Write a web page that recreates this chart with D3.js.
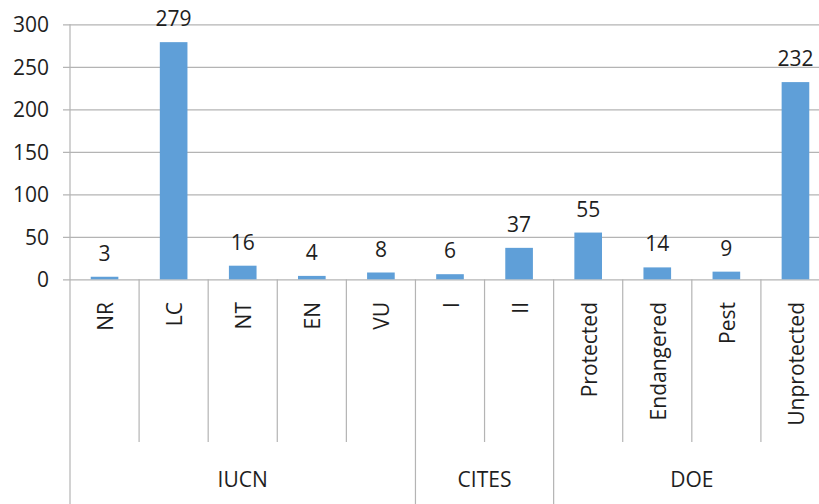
<!DOCTYPE html>
<html>
<head>
<meta charset="utf-8">
<script src="https://cdn.jsdelivr.net/npm/d3@7"></script>
<style>
  body { margin: 0; background: #fff; }
  svg text { font-family: "Open Sans", sans-serif; fill: #1e1e1e; font-size: 21px; }
</style>
</head>
<body>
<div class="barchart"></div>
<script>
// Data
var categories = ["NR", "LC", "NT", "EN", "VU", "I", "II", "Protected", "Endangered", "Pest", "Unprotected"];
var counts = [3, 279, 16, 4, 8, 6, 37, 55, 14, 9, 232];
var groupNames = ["IUCN", "CITES", "DOE"];
var groupSizes = [5, 2, 4];
var yTicks = [0, 50, 100, 150, 200, 250, 300];

var W = 819, H = 504;
// plot area runs a bit past the right edge, like the cropped original
var plotLeft = 70, plotRight = 830, plotTop = 24.3, plotZero = 279.3;

var svg = d3.select(".barchart").append("svg")
    .attr("width", W)
    .attr("height", H);

var x = d3.scaleBand()
    .domain(categories)
    .range([plotLeft, plotRight])
    .paddingInner(0.6)
    .paddingOuter(0.3);

var y = d3.scaleLinear()
    .domain([0, 300])
    .range([plotZero, plotTop]);

// y axis with gridlines
var yAxis = svg.append("g")
    .attr("transform", "translate(63,0)")
    .call(d3.axisLeft(y)
      .tickValues(yTicks)
      .tickSize(-(plotRight - 63))
      .tickPadding(14));
yAxis.select(".domain").remove();
yAxis.selectAll("line").attr("stroke", "#b4b4b4").attr("stroke-width", 1.2);
yAxis.selectAll("text")
    .attr("font-size", null)
    .attr("font-family", null)
    .attr("fill", null)
    .attr("dy", "0.36em");

// vertical axis line
svg.append("line")
    .attr("x1", plotLeft).attr("x2", plotLeft)
    .attr("y1", plotTop).attr("y2", H)
    .attr("stroke", "#b4b4b4").attr("stroke-width", 1.2);

// category separators; group boundaries run down to the bottom
var step = x.step();
var groupEnds = d3.cumsum(groupSizes);
for (var i = 1; i <= categories.length; i++) {
  var isGroupEnd = groupEnds.indexOf(i) >= 0;
  svg.append("line")
      .attr("x1", plotLeft + i * step).attr("x2", plotLeft + i * step)
      .attr("y1", plotZero).attr("y2", isGroupEnd ? H : 442)
      .attr("stroke", "#b4b4b4").attr("stroke-width", 1.2);
}

// bars
svg.selectAll(".bar")
    .data(counts)
    .enter().append("rect")
    .attr("class", "bar")
    .attr("x", function(d, i) { return x(categories[i]); })
    .attr("width", x.bandwidth())
    .attr("y", function(d) { return y(d); })
    .attr("height", function(d) { return plotZero - y(d); })
    .attr("fill", "#5f9fd8");

// value labels
svg.selectAll(".val")
    .data(counts)
    .enter().append("text")
    .attr("class", "val")
    .attr("x", function(d, i) { return x(categories[i]) + x.bandwidth() / 2; })
    .attr("y", function(d) { return y(d) - 16; })
    .attr("text-anchor", "middle")
    .text(function(d) { return d; });

// rotated category labels
svg.selectAll(".cat")
    .data(categories)
    .enter().append("text")
    .attr("class", "cat")
    .attr("transform", function(d) {
      return "translate(" + (x(d) + x.bandwidth() / 2 + 1) + ",302) rotate(-90)";
    })
    .attr("text-anchor", "end")
    .attr("dy", "0.36em")
    .text(function(d) { return d; });

// group labels
var start = 0;
groupNames.forEach(function(g, k) {
  var x0 = plotLeft + start * step,
      x1 = plotLeft + (start + groupSizes[k]) * step;
  svg.append("text")
      .attr("x", (x0 + x1) / 2)
      .attr("y", 487)
      .attr("text-anchor", "middle")
      .text(g);
  start += groupSizes[k];
});
</script>
</body>
</html>
